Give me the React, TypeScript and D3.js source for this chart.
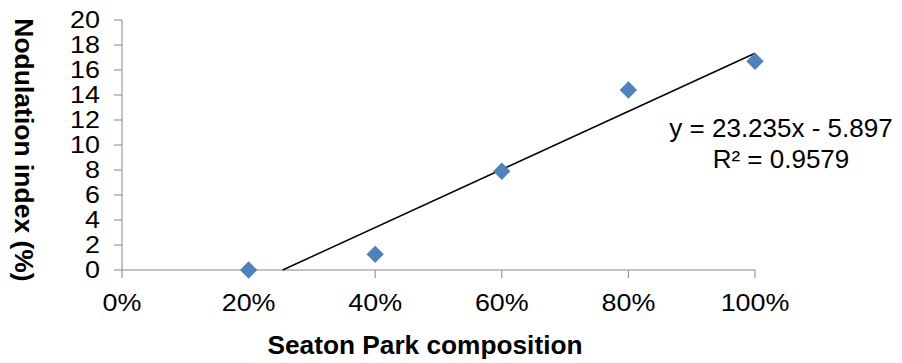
import React from 'react';
import * as d3 from 'd3';

const compositions = [0.2, 0.4, 0.6, 0.8, 1.0];
const nodulation = [0.0, 1.25, 7.9, 14.4, 16.7];
const xTicks = [0, 0.2, 0.4, 0.6, 0.8, 1.0];
const yTicks = [0, 2, 4, 6, 8, 10, 12, 14, 16, 18, 20];
const slope = 23.235;
const intercept = -5.897;
const rSquared = '0.9579';

const W = 902;
const H = 363;
const font = '"Liberation Sans", Arial, sans-serif';
const axisColor = '#868686';

// text stretched along its own direction (the reference is a little wide)
const Label = ({ x, y, sx = 1, rotate = 0, children, ...rest }: any) => (
  <text transform={`translate(${x},${y}) rotate(${rotate}) scale(${sx},1)`} {...rest}>
    {children}
  </text>
);

const App = () => {
  const x = d3.scaleLinear().domain([0, 1]).range([122, 755]);
  const y = d3.scaleLinear().domain([0, 20]).range([270, 20]);

  const diamond = d3.symbol().type(d3.symbolSquare).size(150)();

  const x0 = -intercept / slope;
  const trend = d3.line<number>()
    .x(d => x(d))
    .y(d => y(slope * d + intercept))([x0, 1]);

  return (
    <svg width={W} height={H} style={{ position: 'absolute', left: 0, top: 0 }}
      fontFamily={font}>
      <rect width={W} height={H} fill="#fff" />

      {/* y axis */}
      <line x1={x(0)} x2={x(0)} y1={y(0)} y2={y(20)} stroke={axisColor} />
      {yTicks.map(t => (
        <g key={t}>
          <line x1={x(0) - 8} x2={x(0)} y1={y(t)} y2={y(t)} stroke={axisColor} />
          <Label x={100} y={y(t)} sx={1.12} textAnchor="end" dominantBaseline="central" fontSize={24}>{t}</Label>
        </g>
      ))}

      {/* x axis */}
      <line x1={x(0)} x2={x(1)} y1={y(0)} y2={y(0)} stroke={axisColor} />
      {xTicks.map(t => (
        <g key={t}>
          <line x1={x(t)} x2={x(t)} y1={y(0)} y2={y(0) + 8} stroke={axisColor} />
          <Label x={x(t)} y={311} sx={1.12} textAnchor="middle" fontSize={24}>{d3.format('.0%')(t)}</Label>
        </g>
      ))}

      {/* trendline */}
      <path d={trend ?? ''} fill="none" stroke="#000" strokeWidth={1.5} />

      {/* points */}
      {compositions.map((c, i) => (
        <path key={c} d={diamond ?? ''} fill="#4F81BD"
          transform={`translate(${x(c)},${y(nodulation[i])}) rotate(45)`} />
      ))}

      {/* equation */}
      <Label x={781} y={137} sx={1.04} textAnchor="middle" fontSize={25}>
        {`y = ${slope}x - ${Math.abs(intercept)}`}
      </Label>
      <Label x={781} y={168} sx={1.04} textAnchor="middle" fontSize={25}>
        {`R² = ${rSquared}`}
      </Label>

      {/* titles */}
      <Label x={425} y={354} sx={1.05} textAnchor="middle" fontSize={25} fontWeight="bold">
        Seaton Park composition
      </Label>
      <Label x={24} y={150} rotate={90} sx={1.06} textAnchor="middle" dominantBaseline="central"
        fontSize={25} fontWeight="bold">
        Nodulation index (%)
      </Label>
    </svg>
  );
};

export default App;
